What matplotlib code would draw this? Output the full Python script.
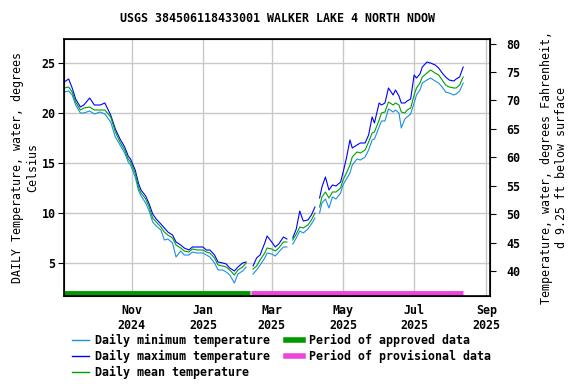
import numpy as np
import pandas as pd
import matplotlib
matplotlib.use('Agg')
import matplotlib.pyplot as plt
import matplotlib.dates as mdates
from matplotlib.lines import Line2D

nan = np.nan

# roughly every 3-4 days (nan = gap in record)
dates = ['2024-09-04', '2024-09-08', '2024-09-11', '2024-09-14', '2024-09-18', '2024-09-21',
         '2024-09-26', '2024-09-30', '2024-10-05', '2024-10-09', '2024-10-14', '2024-10-18',
         '2024-10-22', '2024-10-26', '2024-10-29', '2024-10-31', '2024-11-04', '2024-11-07',
         '2024-11-09', '2024-11-13', '2024-11-16', '2024-11-19', '2024-11-22', '2024-11-26',
         '2024-11-29', '2024-12-02', '2024-12-06', '2024-12-09', '2024-12-13', '2024-12-16',
         '2024-12-20', '2024-12-23', '2024-12-27', '2025-01-01', '2025-01-04', '2025-01-07',
         '2025-01-11', '2025-01-14', '2025-01-18', '2025-01-21', '2025-01-24', '2025-01-28',
         '2025-01-31', '2025-02-04', '2025-02-07', '2025-02-10', '2025-02-13', '2025-02-16',
         '2025-02-19', '2025-02-23', '2025-02-25', '2025-03-01', '2025-03-04', '2025-03-07',
         '2025-03-11', '2025-03-14', '2025-03-16', '2025-03-19', '2025-03-22', '2025-03-25',
         '2025-03-28', '2025-04-01', '2025-04-04', '2025-04-07', '2025-04-09', '2025-04-11',
         '2025-04-13', '2025-04-16', '2025-04-19', '2025-04-22', '2025-04-25', '2025-04-29',
         '2025-05-01', '2025-05-04', '2025-05-07', '2025-05-09', '2025-05-13', '2025-05-16',
         '2025-05-20', '2025-05-23', '2025-05-26', '2025-05-28', '2025-06-01', '2025-06-03',
         '2025-06-06', '2025-06-09', '2025-06-13', '2025-06-15', '2025-06-18', '2025-06-20',
         '2025-06-23', '2025-06-25', '2025-06-28', '2025-07-01', '2025-07-03', '2025-07-06',
         '2025-07-08', '2025-07-12', '2025-07-15', '2025-07-19', '2025-07-22', '2025-07-25',
         '2025-07-28', '2025-07-31', '2025-08-04', '2025-08-06', '2025-08-09', '2025-08-12']

mean_temp = [22.5, 22.6, 22.1, 21.1, 20.3, 20.5, 20.6, 20.3, 20.3, 20.3, 19.6, 18.1,
             17.1, 16.3, 15.4, 15.1, 14.0, 12.5, 12.0, 11.4, 10.6, 9.5, 9.1, 8.6,
             8.1, 7.8, 7.5, 6.8, 6.5, 6.2, 6.1, 6.4, 6.3, 6.3, 6.1, 6.0,
             5.5, 4.8, 4.7, 4.6, 4.3, 3.8, 4.3, 4.6, 5.0, nan, 4.4, 4.7,
             5.3, 6.0, 6.5, 6.4, 6.2, 6.5, 7.1, 7.1, nan, 7.3, 7.9, 8.6,
             8.5, 8.8, 9.3, 10.0, nan, 10.6, 11.6, 12.1, 11.5, 12.1, 12.1, 12.5,
             13.3, 14.0, 14.8, 15.6, 16.1, 16.0, 16.3, 17.1, 18.0, 18.1, 19.3, 20.0,
             20.1, 21.1, 20.8, 21.0, 20.8, 20.1, 20.0, 20.3, 20.5, 21.8, 22.5, 23.0,
             23.6, 24.0, 24.3, 24.0, 23.8, 23.3, 22.8, 22.6, 22.5, 22.5, 22.8, 23.6]

max_temp = [23.1, 23.4, 22.5, 21.4, 20.6, 20.8, 21.5, 20.8, 20.8, 21.0, 19.8, 18.4,
            17.4, 16.6, 15.7, 15.4, 14.3, 12.9, 12.3, 11.7, 10.9, 9.9, 9.4, 8.9,
            8.5, 8.1, 7.8, 7.1, 6.8, 6.5, 6.3, 6.6, 6.6, 6.6, 6.3, 6.3,
            5.8, 5.1, 5.0, 4.9, 4.5, 4.2, 4.6, 5.0, 5.1, nan, 4.7, 5.5,
            5.8, 7.0, 7.7, 7.1, 6.6, 6.9, 7.6, 7.4, nan, 7.5, 8.4, 10.2,
            9.2, 9.3, 9.8, 10.6, nan, 11.5, 12.6, 13.6, 12.3, 12.8, 12.7, 13.1,
            14.0, 15.5, 17.3, 16.5, 16.8, 17.0, 17.0, 17.8, 19.6, 19.0, 21.0, 20.8,
            21.0, 22.5, 21.8, 22.3, 21.7, 21.0, 21.0, 21.2, 21.4, 23.8, 23.5, 23.9,
            24.6, 25.1, 25.0, 24.8, 24.5, 24.0, 23.6, 23.3, 23.2, 23.4, 23.6, 24.6]

min_temp = [22.1, 22.2, 21.8, 20.8, 20.0, 20.0, 20.2, 19.9, 20.1, 19.9, 19.1, 17.6,
            16.8, 16.0, 15.1, 14.8, 13.6, 12.2, 11.7, 11.0, 10.2, 9.1, 8.7, 8.3,
            7.3, 7.4, 7.0, 5.6, 6.2, 5.8, 5.8, 6.1, 6.0, 6.0, 5.8, 5.6,
            5.0, 4.3, 4.3, 4.1, 3.8, 3.0, 3.9, 4.2, 4.6, nan, 3.9, 4.3,
            4.8, 5.5, 6.0, 5.9, 5.7, 6.1, 6.6, 6.6, nan, 6.9, 7.5, 8.2,
            8.0, 8.4, 8.9, 9.5, nan, 10.0, 11.0, 11.4, 10.5, 11.6, 11.4, 12.0,
            12.8, 13.4, 14.0, 14.8, 15.4, 15.3, 15.6, 16.3, 17.3, 17.4, 18.6, 19.2,
            19.2, 20.4, 20.1, 20.3, 20.0, 18.5, 19.4, 19.6, 19.9, 21.0, 21.8, 22.3,
            23.0, 23.3, 23.5, 23.2, 23.0, 22.6, 22.1, 22.0, 21.8, 21.9, 22.2, 23.0]

approved_period = ['2024-09-04', '2025-02-10']
provisional_period = ['2025-02-11', '2025-08-12']

site_title = 'USGS 384506118433001 WALKER LAKE 4 NORTH NDOW'

plt.rcParams['font.family'] = 'DejaVu Sans Mono'
plt.rcParams['font.weight'] = 'bold'
plt.rcParams['font.size'] = 8.4

days = pd.to_datetime(dates)

fig = plt.figure(figsize=(5.76, 3.84), dpi=100)
ax = fig.add_axes([64/576, 1-296/384, 426/576, 257/384])

ax.plot(days, min_temp, c='#1a8fe0', lw=0.8)
ax.plot(days, max_temp, c='#0000ff', lw=0.8)
ax.plot(days, mean_temp, c='#00a000', lw=0.8)

ax.plot(pd.to_datetime(approved_period), [2.05, 2.05], c='#009900', lw=3.5, solid_capstyle='butt')
ax.plot(pd.to_datetime(provisional_period), [2.05, 2.05], c='#ee44dd', lw=3.5, solid_capstyle='butt')

ax.set_xlim(pd.Timestamp('2024-09-04'), pd.Timestamp('2025-09-04'))
ax.set_ylim(1.7, 27.4)
ax.set_yticks([5, 10, 15, 20, 25])
ax.xaxis.set_major_locator(mdates.MonthLocator(bymonth=[1, 3, 5, 7, 9, 11]))
ax.xaxis.set_major_formatter(mdates.DateFormatter('%b\n%Y'))
ax.grid(True, color='#c8c8c8', lw=1)
ax.tick_params(axis='x', which='major', length=0, pad=6)
ax.tick_params(axis='y', length=4, pad=2)
ax.set_ylabel('DAILY Temperature, water, degrees\nCelsius', labelpad=2)
for s in ax.spines.values():
    s.set_linewidth(1.2)

ax2 = ax.twinx()
ax2.set_ylim(35.6, 80.8)
ax2.set_yticks([40, 45, 50, 55, 60, 65, 70, 75, 80])
ax2.tick_params(axis='y', length=4, pad=8)
ax2.set_ylabel('Temperature, water, degrees Fahrenheit,\nd 9.25 ft below surface', labelpad=14)

ax.set_title(site_title, fontsize=8.4, fontweight='bold', pad=12)

handles = [Line2D([], [], c='#1a8fe0', lw=1),
           Line2D([], [], c='#0000ff', lw=1),
           Line2D([], [], c='#00a000', lw=1),
           Line2D([], [], c='#009900', lw=4),
           Line2D([], [], c='#ee44dd', lw=4)]
labels = ['Daily minimum temperature', 'Daily maximum temperature', 'Daily mean temperature',
          'Period of approved data', 'Period of provisional data']
fig.legend(handles, labels, loc='upper left', bbox_to_anchor=(72/576, 1-334/384), ncol=2,
           frameon=False, handlelength=1.45, handletextpad=0.5, columnspacing=1.4,
           labelspacing=0.25, borderaxespad=0, borderpad=0)

fig.savefig('out.png', dpi=100)
